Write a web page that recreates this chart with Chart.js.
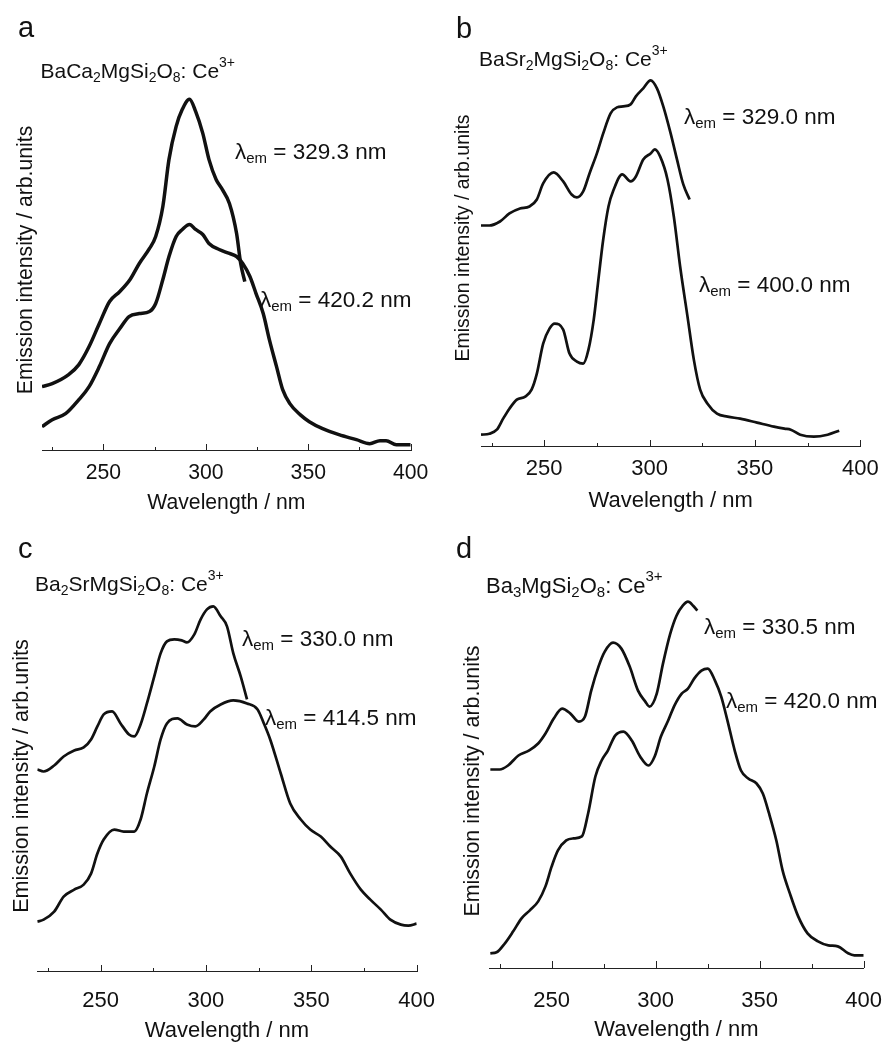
<!DOCTYPE html>
<html>

<head>
    <title>Excitation spectra</title>
    <script src="https://cdn.jsdelivr.net/npm/chart.js"></script>
    <style>
        body { margin: 0; background: #fff; }
        canvas { position: absolute; }
    </style>
</head>

<body>
    <canvas id="chartA" style="left:0;top:0" width="441" height="520"></canvas>
    <canvas id="chartB" style="left:441px;top:0" width="441" height="520"></canvas>
    <canvas id="chartC" style="left:0;top:520px" width="441" height="525"></canvas>
    <canvas id="chartD" style="left:441px;top:520px" width="441" height="525"></canvas>
    <script>
        // wavelength (nm) / intensity (arb. units)
        var aHighWl = [220, 225, 233, 238, 243, 248, 253, 258, 263, 267.5, 272.5, 275.5, 279, 282, 285.5, 288.5, 292, 295, 298.5, 301.5, 305, 308, 311.5, 315, 317, 319];
        var aHighI = [64, 67, 76, 86, 104, 127, 149, 159, 171, 187, 202, 214, 244, 291, 324, 341, 351, 339, 317, 291, 271, 261, 247, 217, 187, 169];
        var aLowWl = [220, 225, 231.5, 238, 243, 248, 253, 258, 262.5, 267.5, 272.5, 275.5, 279, 282, 285.5, 288.5, 292, 295, 298.5, 301.5, 306.5, 311.5, 315, 318, 321.5, 324.5, 328, 331, 334.5, 337.5, 341, 346, 350.5, 357, 365, 373.5, 380, 385, 388, 393, 400];
        var aLowI = [24, 31, 37, 51, 64, 84, 107, 122, 134, 137, 139, 147, 171, 194, 214, 221, 226, 221, 216, 207, 201, 197, 194, 187, 174, 157, 137, 111, 84, 61, 47, 36, 29, 22, 16, 11, 7, 10, 10, 6, 6];

        var bHighWl = [220, 224, 229, 233.5, 238.5, 243, 246.5, 249.5, 254.5, 259, 263, 265.5, 268.5, 271.5, 275, 278, 281.5, 284.5, 287.5, 291, 293.5, 297, 300.5, 303.5, 306.5, 310, 313, 316, 319];
        var bHighI = [221, 221, 225, 233, 238, 240, 247, 263, 274, 265, 252, 249, 255, 273, 293, 313, 333, 339, 340, 342, 350, 358, 366, 358, 340, 313, 287, 262, 247];
        var bLowWl = [220, 224, 227.5, 230.5, 233.5, 237, 241, 244, 246.5, 249.5, 252.5, 255, 259, 262, 265.5, 268.5, 271, 273.5, 275.5, 278, 280.5, 283, 287, 291, 293.5, 297, 300.5, 302.5, 305, 308.5, 311.5, 314.5, 318, 321, 324, 327.5, 332, 337, 343, 351, 359, 364, 367, 371.5, 378, 384.5, 390];
        var bLowI = [12, 13, 17, 28, 38, 47, 50, 57, 73, 103, 118, 123, 117, 93, 85, 83, 97, 127, 163, 207, 240, 257, 272, 265, 270, 287, 293, 297, 290, 267, 230, 180, 130, 87, 57, 43, 33, 30, 28, 24, 20, 18, 17, 12, 10, 12, 16];

        var cHighWl = [220, 223, 228, 232.5, 237.5, 242, 245.5, 248.5, 251.5, 255.5, 259.5, 263.5, 266, 269, 272, 275.5, 278.5, 281.5, 285, 288.5, 291, 294.5, 297.5, 300.5, 303.5, 307, 310, 313, 316.5, 319.5];
        var cHighI = [202, 200, 206, 215, 221, 224, 232, 245, 257, 260, 248, 237, 235, 247, 268, 295, 318, 330, 332, 331, 329, 337, 352, 362, 365, 355, 345, 318, 295, 272];
        var cLowWl = [220, 223, 228, 232.5, 237.5, 242, 245.5, 248.5, 251.5, 256.5, 261, 266, 269, 272, 275.5, 278.5, 281.5, 286.5, 291, 295, 299, 302, 307, 313, 319.5, 324.5, 327.5, 330.5, 335.5, 340, 345, 349.5, 354.5, 359, 364, 368.5, 373.5, 378, 383, 387.5, 392.5, 396, 400];
        var cLowI = [50, 52, 60, 75, 82, 87, 98, 118, 132, 142, 140, 140, 152, 178, 205, 232, 248, 253, 247, 245, 252, 260, 267, 271, 268, 262, 248, 232, 198, 168, 152, 142, 135, 125, 115, 98, 82, 72, 62, 52, 47, 46, 48];

        var dHighWl = [220.5, 225, 229, 234, 239, 243.5, 247, 251, 255, 259, 263, 266, 269, 272.5, 275.5, 279.5, 283.5, 287.5, 291.5, 295, 297, 300.5, 303.5, 307, 310, 313, 315.5, 318, 320];
        var dHighI = [199, 199, 203, 213, 218, 225, 235, 250, 260, 255, 247, 252, 278, 302, 317, 326, 320, 302, 278, 267, 262, 275, 305, 335, 353, 363, 367, 363, 358];
        var dLowWl = [220.5, 223.5, 227.5, 231.5, 235.5, 239.5, 243.5, 247, 250, 253, 257, 260.5, 264.5, 267.5, 271, 274, 277, 280.5, 284.5, 288.5, 292.5, 296.5, 299.5, 302.5, 306, 309, 312.5, 315.5, 318.5, 322, 325, 328.5, 331.5, 334.5, 338, 341, 344.5, 348.5, 351.5, 354.5, 358, 361, 364.5, 368.5, 373, 378, 383, 387.5, 392.5, 395.5, 400];
        var dLowI = [15, 16, 25, 37, 50, 58, 67, 82, 102, 118, 128, 130, 132, 155, 192, 208, 218, 233, 237, 228, 212, 203, 212, 232, 248, 263, 275, 280, 290, 298, 300, 288, 272, 248, 218, 198, 190, 185, 175, 155, 128, 98, 75, 52, 35, 27, 23, 22, 15, 13, 13];

        var xMin = 220, xMax = 400, xStep = 25;
        var xTitle = 'Wavelength / nm';
        var yTitle = 'Emission intensity / arb.units';

        var FONT = '"Liberation Sans", Arial, Helvetica, sans-serif';
        Chart.defaults.font.family = FONT;
        Chart.defaults.color = '#111';

        function lambda(txt) { return [['\u03bb', ''], ['em', 'sub'], [' = ' + txt, '']]; }
        function compound(a, b, c) {
            // a<sub>b</sub> c Si2O8: Ce3+
            var parts = [[a, '']];
            if (b) parts.push([b, 'sub']);
            parts.push([c + 'MgSi', ''], ['2', 'sub'], ['O', ''], ['8', 'sub'], [': Ce', ''], ['3+', 'sup']);
            return parts;
        }

        var panels = [
            {
                id: 'chartA', ymax: 381, lineWidth: 3.5, axisSize: 21.2, ySize: 21.2,
                pad: { top: 69.3, right: 30.3, left: 13.3, bottom: 4.3 }, yWidth: 28.7, xHeight: 65, labelPad: 9.3,
                series: [[aHighWl, aHighI], [aLowWl, aLowI]],
                letter: ['a', 18, 37],
                notes: [
                    [40.5, 78, 21, compound('BaCa', '2', '')],
                    [235, 159, 22.5, lambda('329.3 nm')],
                    [260, 307, 22.5, lambda('420.2 nm')]
                ]
            },
            {
                id: 'chartB', ymax: 417, lineWidth: 2.7, axisSize: 22, ySize: 19.5,
                pad: { top: 29.3, right: 21.7, left: 11.3, bottom: 6.3 }, yWidth: 28.7, xHeight: 67, labelPad: 9.1,
                series: [[bHighWl, bHighI], [bLowWl, bLowI]],
                letter: ['b', 15, 38],
                notes: [
                    [38, 66, 21, compound('BaSr', '2', '')],
                    [243, 124, 22.5, lambda('329.0 nm')],
                    [258, 292, 22.5, lambda('400.0 nm')]
                ]
            },
            {
                id: 'chartC', ymax: 391, lineWidth: 2.7, axisSize: 22, ySize: 21.6,
                pad: { top: 60.3, right: 24.3, left: 9, bottom: 0.8 }, yWidth: 28.3, xHeight: 72.5, labelPad: 15.9,
                series: [[cHighWl, cHighI], [cLowWl, cLowI]],
                letter: ['c', 18, 38],
                notes: [
                    [35, 71, 21, compound('Ba', '2', 'Sr')],
                    [242, 126, 22.5, lambda('330.0 nm')],
                    [265, 205, 22.5, lambda('414.5 nm')]
                ]
            },
            {
                id: 'chartD', ymax: 375, lineWidth: 2.7, axisSize: 22, ySize: 21.4,
                pad: { top: 73.7, right: 18.3, left: 19.2, bottom: 1.8 }, yWidth: 29.1, xHeight: 74.9, labelPad: 19.3,
                series: [[dHighWl, dHighI], [dLowWl, dLowI]],
                letter: ['d', 15, 38],
                notes: [
                    [45, 73, 22, compound('Ba', '3', '')],
                    [263, 114, 22.5, lambda('330.5 nm')],
                    [285, 188, 22.5, lambda('420.0 nm')]
                ]
            }
        ];

        // mixed normal / subscript / superscript text
        function drawRich(ctx, x, y, parts, size) {
            parts.forEach(function (p) {
                var s = size, dy = 0;
                if (p[1] === 'sub') { s = Math.round(size * 0.68); dy = size * 0.19; }
                if (p[1] === 'sup') { s = Math.round(size * 0.66); dy = -size * 0.53; }
                ctx.font = s + 'px ' + FONT;
                ctx.fillText(p[0], x, y + dy);
                x += ctx.measureText(p[0]).width;
            });
        }

        // ticks point up into the plot, long at labelled values
        var innerTicks = {
            id: 'innerTicks',
            afterDraw: function (chart) {
                var sx = chart.scales.x, ctx = chart.ctx, b = Math.round(chart.chartArea.bottom);
                ctx.save();
                ctx.strokeStyle = '#222';
                ctx.lineWidth = 1;
                sx.ticks.forEach(function (t) {
                    var px = Math.round(sx.getPixelForValue(t.value)) + 0.5;
                    var len = t.value % 50 === 0 ? 7 : 4;
                    ctx.beginPath();
                    ctx.moveTo(px, b);
                    ctx.lineTo(px, b - len);
                    ctx.stroke();
                });
                ctx.restore();
            }
        };

        var panelText = {
            id: 'panelText',
            afterDraw: function (chart, args, opts) {
                var ctx = chart.ctx;
                ctx.save();
                ctx.fillStyle = '#111';
                ctx.textBaseline = 'alphabetic';
                ctx.textAlign = 'left';
                ctx.font = '29px ' + FONT;
                ctx.fillText(opts.letter[0], opts.letter[1], opts.letter[2]);
                opts.notes.forEach(function (n) {
                    drawRich(ctx, n[0], n[1], n[3], n[2]);
                });
                ctx.restore();
            }
        };

        panels.forEach(function (p) {
            var datasets = p.series.map(function (s) {
                return {
                    data: s[0].map(function (w, i) { return { x: w, y: s[1][i] }; }),
                    borderColor: '#111',
                    borderWidth: p.lineWidth,
                    pointRadius: 0,
                    fill: false,
                    cubicInterpolationMode: 'monotone'
                };
            });
            new Chart(document.getElementById(p.id), {
                type: 'line',
                data: { datasets: datasets },
                plugins: [innerTicks, panelText],
                options: {
                    responsive: false,
                    animation: false,
                    layout: { padding: p.pad },
                    plugins: {
                        legend: { display: false },
                        tooltip: { enabled: false },
                        panelText: { letter: p.letter, notes: p.notes }
                    },
                    scales: {
                        x: {
                            type: 'linear',
                            min: xMin,
                            max: xMax,
                            grid: { display: false, drawTicks: false },
                            border: { display: true, color: '#222', width: 1 },
                            ticks: {
                                stepSize: xStep,
                                includeBounds: false,
                                autoSkip: false,
                                maxRotation: 0,
                                padding: p.labelPad,
                                font: { size: p.axisSize },
                                color: '#111',
                                callback: function (v) { return v % 50 === 0 ? String(v) : ''; }
                            },
                            title: { display: true, text: xTitle, font: { size: p.axisSize }, padding: 0, color: '#111' },
                            afterFit: function (s) { s.height = p.xHeight; s.paddingLeft = 0; s.paddingRight = 0; }
                        },
                        y: {
                            min: 0,
                            max: p.ymax,
                            grid: { display: false, drawTicks: false },
                            border: { display: false },
                            ticks: { display: false },
                            title: { display: true, text: yTitle, font: { size: p.ySize }, padding: 0, color: '#111' },
                            afterFit: function (s) { s.width = p.yWidth; s.paddingTop = 0; s.paddingBottom = 0; }
                        }
                    }
                }
            });
        });
    </script>
</body>

</html>
